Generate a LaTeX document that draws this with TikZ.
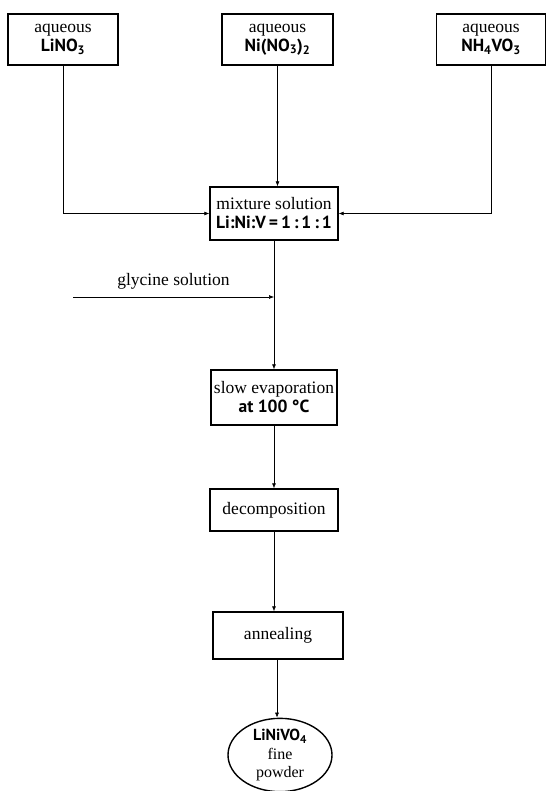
\documentclass[tikz,border=0pt]{standalone}
\usepackage{fontspec}
\setmainfont{Liberation Serif}
\newfontfamily\formfont{PT Sans}
\usetikzlibrary{arrows.meta,shapes.geometric,calc}
\begin{document}
\begin{tikzpicture}[x=1pt,y=-1pt,
  box/.style={draw,line width=1.4pt,rectangle,inner sep=0pt,align=center,font=\fontsize{17.5}{20}\selectfont},
  arr/.style={line width=0.6pt,-{Latex[length=5pt,width=4pt]}}]
\useasboundingbox (0,0) rectangle (547,791);
\node[box,minimum width=110pt,minimum height=51pt] (li) at (63,39.5) {aqueous\\[-1pt]{\formfont\bfseries LiNO\textsubscript{3}}};
\node[box,minimum width=111pt,minimum height=51pt] (ni) at (277.5,39.5) {aqueous\\[-1pt]{\formfont\bfseries Ni(NO\textsubscript{3})\textsubscript{2}}};
\node[box,minimum width=109pt,minimum height=51pt] (nh) at (491,39.5) {aqueous\\[-1pt]{\formfont\bfseries NH\textsubscript{4}VO\textsubscript{3}}};
\node[box,minimum width=128pt,minimum height=53pt] (mix) at (274,213.5) {mixture solution\\[-1pt]{\formfont\bfseries Li:Ni:V\,=\,1\,:\,1\,:\,1}};
\node[box,minimum width=126pt,minimum height=55pt] (evap) at (274,397.5) {slow evaporation\\[-1pt]{\formfont\bfseries at 100 °C}};
\node[box,minimum width=128pt,minimum height=42pt] (dec) at (274,510) {decomposition};
\node[box,minimum width=130pt,minimum height=47pt] (ann) at (278,635.5) {annealing};
\node[box,ellipse,minimum width=104pt,minimum height=68pt,font=\fontsize{16}{18.5}\selectfont] (ell) at (280,755) {{\formfont\bfseries LiNiVO\textsubscript{4}}\\fine\\powder};
\coordinate (gs) at (73,297);
\coordinate (gj) at (274,297);
\draw[arr] (li.south) |- (mix.west);
\draw[arr] (nh.south) |- (mix.east);
\draw[arr] (ni.south) -- (ni.south |- mix.north);
\draw[arr] (mix.south) -- (evap.north);
\draw[arr] (gs) -- node[above=4pt,font=\fontsize{17.5}{20}\selectfont]{glycine solution} (gj);
\draw[arr] (evap.south) -- (evap.south |- dec.north);
\draw[arr] (dec.south) -- (dec.south |- ann.north);
\draw[arr] (ann.south -| 277,0) -- (277,0 |- ell.north);
\end{tikzpicture}
\end{document}
